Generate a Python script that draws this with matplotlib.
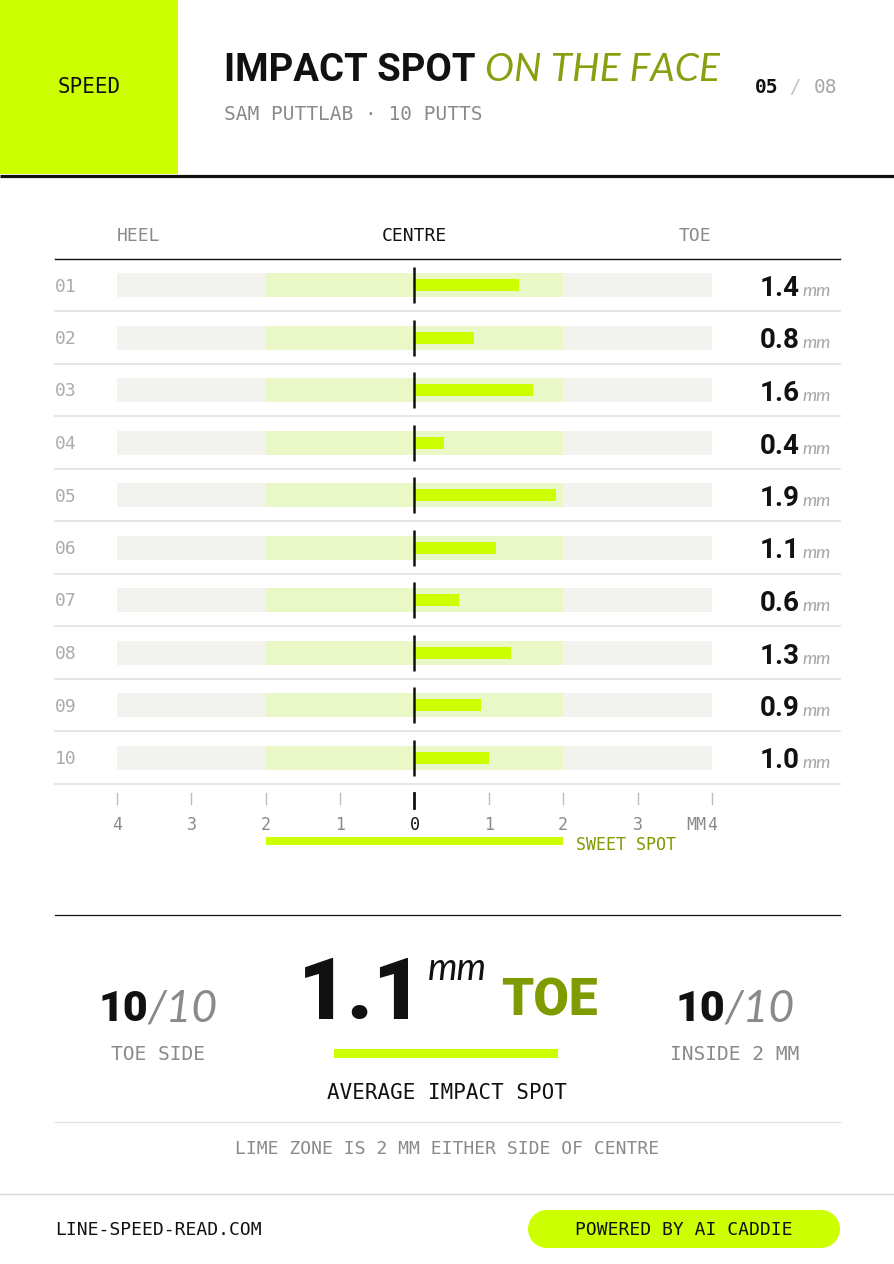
import matplotlib
matplotlib.use('Agg')
import matplotlib.pyplot as plt
from matplotlib.patches import Rectangle, Circle
from matplotlib.transforms import blended_transform_factory
import numpy as np

# ---------------- data ----------------
putt_labels = ['01', '02', '03', '04', '05', '06', '07', '08', '09', '10']
impact_mm = [1.4, 0.8, 1.6, 0.4, 1.9, 1.1, 0.6, 1.3, 0.9, 1.0]
tick_values = [-4, -3, -2, -1, 0, 1, 2, 3, 4]
tick_labels = ['4', '3', '2', '1', '0', '1', '2', '3', '4']
face_range = [-4, 4]
sweet_spot = [-2, 2]

# ---------------- style ----------------
LIME = '#CCFF00'
ZONE = '#EAF7C6'
TRACK = '#F2F2EE'
OLIVE = '#7E9B00'
GREY = '#8A8A8A'
LGREY = '#A6A6A6'
SEP = '#E4E4DF'
BLACK = '#111111'
MONO = ['DejaVu Sans Mono']
SANS = ['Roboto', 'DejaVu Sans']
LIGHT = ['Lato', 'DejaVu Sans']

W, H = 894, 1264
fig = plt.figure(figsize=(W / 100, H / 100), dpi=100, facecolor='white')
bg = fig.add_axes([0, 0, 1, 1], zorder=1)
bg.set_xlim(0, W)
bg.set_ylim(H, 0)
bg.axis('off')
renderer = fig.canvas.get_renderer()


def seq(x, y, parts, ax=bg):
    """place text pieces one after the other on a common baseline"""
    for s, kw in parts:
        t = ax.text(x, y, s, ha='left', va='baseline', **kw)
        bb = t.get_window_extent(renderer)
        x += bb.width
    return x


def width_of(parts):
    tot = 0
    for s, kw in parts:
        t = bg.text(0, 0, s, **kw)
        tot += t.get_window_extent(renderer).width
        t.remove()
    return tot


# ---------------- header ----------------
bg.add_patch(Rectangle((0, 0), 178, 174, color=LIME, lw=0))
bg.text(89, 87, 'SPEED', ha='center', va='center', family=MONO, fontsize=15,
        color=BLACK)
bg.plot([0, W], [175.5, 175.5], color=BLACK, lw=2.3, solid_capstyle='butt')

seq(224, 81, [('IMPACT SPOT ', dict(family=SANS, fontweight='bold', fontsize=27.5, color=BLACK)),
              ('ON THE FACE', dict(family=LIGHT, fontweight='normal', style='italic',
                                   fontsize=28, color='#86A010'))])
bg.text(224, 120, 'SAM PUTTLAB · 10 PUTTS', ha='left', va='baseline', family=MONO,
        fontsize=14, color=GREY)
seq(755, 93, [('05', dict(family=MONO, fontsize=14, color=BLACK, fontweight='bold')),
              (' / ', dict(family=MONO, fontsize=14, color='#C4C4C4')),
              ('08', dict(family=MONO, fontsize=14, color=LGREY))])

# ---------------- chart ----------------
x0, x1 = 117, 712
top, row_h = 258.75, 52.5
n = len(putt_labels)
ax = fig.add_axes([x0 / W, 1 - (top + n * row_h) / H, (x1 - x0) / W, n * row_h / H],
                  zorder=2)
ax.set_xlim(face_range)
ax.set_ylim(n - 0.5, -0.5)
ax.axis('off')
rows = np.arange(n)
trans_px_x = blended_transform_factory(bg.transData, ax.transData)

# column headings
bg.text(117, 241, 'HEEL', ha='left', va='baseline', family=MONO, fontsize=13, color=GREY)
bg.text(414, 241, 'CENTRE', ha='center', va='baseline', family=MONO, fontsize=13, color=BLACK)
bg.text(711, 241, 'TOE', ha='right', va='baseline', family=MONO, fontsize=13, color=GREY)

# separators
ax.plot([55, 840], [-0.5, -0.5], color=BLACK, lw=1.0, transform=trans_px_x, clip_on=False)
for r in rows:
    ax.plot([55, 840], [r + 0.5, r + 0.5], color=SEP, lw=1.3, transform=trans_px_x,
            clip_on=False)

track_h = 24 / row_h
bar_h = 12 / row_h
ax.barh(rows, face_range[1] - face_range[0], left=face_range[0], height=track_h,
        color=TRACK, lw=0, zorder=1)
ax.barh(rows, sweet_spot[1] - sweet_spot[0], left=sweet_spot[0], height=track_h,
        color=ZONE, lw=0, zorder=2)
ax.barh(rows, impact_mm, left=0, height=bar_h, color=LIME, lw=0, zorder=3)
ax.vlines([0] * n, rows - 18 / row_h, rows + 18 / row_h, color=BLACK, lw=1.8, zorder=4)

for r, lab, v in zip(rows, putt_labels, impact_mm):
    ax.text(55, r + 6.5 / row_h, lab, transform=trans_px_x, ha='left', va='baseline',
            family=MONO, fontsize=13, color='#ABABAB', clip_on=False)
    ax.text(800, r + 11 / row_h, f'{v:.1f}', transform=trans_px_x, ha='right',
            va='baseline', family=SANS, fontweight='bold', fontsize=20, color=BLACK,
            clip_on=False)
    ax.text(802, r + 11 / row_h, 'mm', transform=trans_px_x, ha='left', va='baseline',
            family=LIGHT, fontweight='normal', style='italic', fontsize=13, color=LGREY,
            clip_on=False)


# axis ticks under the chart
def ypx(p):
    return (p - top) / row_h - 0.5


for tv, tl in zip(tick_values, tick_labels):
    if tv == 0:
        ax.plot([tv, tv], [ypx(793), ypx(808)], color=BLACK, lw=2.0, clip_on=False)
        ax.text(tv, ypx(830), tl, ha='center', va='baseline', family=MONO, fontsize=12,
                color=BLACK, clip_on=False)
    else:
        ax.plot([tv, tv], [ypx(793), ypx(804)], color='#BDBDBD', lw=1.0, clip_on=False)
        ax.text(tv, ypx(830), tl, ha='center', va='baseline', family=MONO, fontsize=12,
                color=GREY, clip_on=False)
ax.text(face_range[1] - 6 / 74.4, ypx(830), 'MM', ha='right', va='baseline', family=MONO,
        fontsize=12, color=GREY, clip_on=False)

ax.barh([ypx(841)], [sweet_spot[1] - sweet_spot[0]], left=sweet_spot[0],
        height=8 / row_h, color=LIME, lw=0, clip_on=False)
ax.text(sweet_spot[1] + 13 / 74.4, ypx(850), 'SWEET SPOT', ha='left', va='baseline',
        family=MONO, fontsize=12, color=OLIVE, clip_on=False)

# ---------------- summary ----------------
avg = np.mean(impact_mm)
toe_n = int(sum(1 for v in impact_mm if v > 0))
inside_n = int(sum(1 for v in impact_mm if sweet_spot[0] <= v <= sweet_spot[1]))
total = len(impact_mm)

bg.plot([55, 840], [915, 915], color=BLACK, lw=0.9)

big_kw = dict(family=SANS, fontweight='black', fontsize=62, color=BLACK)
mm_kw = dict(family=LIGHT, fontweight='normal', style='italic', fontsize=27, color=BLACK)
toe_kw = dict(family=SANS, fontweight='black', fontsize=37, color=OLIVE)
big_s = f'{avg:.1f}'
w_big = width_of([(big_s, big_kw)])
w_mm = width_of([('mm', mm_kw)])
w_toe = width_of([('TOE', toe_kw)])
gap1, gap2 = 4, 14
total_w = w_big + gap1 + w_mm + gap2 + w_toe
xs = 448 - total_w / 2
bg.text(xs, 1019, big_s, ha='left', va='baseline', **big_kw)
bg.text(xs + w_big + gap1, 980, 'mm', ha='left', va='baseline', **mm_kw)
bg.text(xs + w_big + gap1 + w_mm + gap2, 1015, 'TOE', ha='left', va='baseline', **toe_kw)

for cx, n_ok, label in [(158, toe_n, 'TOE SIDE'), (735, inside_n, 'INSIDE 2 MM')]:
    parts = [(f'{n_ok}', dict(family=SANS, fontweight='black', fontsize=31, color=BLACK)),
             (f'/{total}', dict(family=LIGHT, fontweight='normal', style='italic',
                                fontsize=32, color=GREY))]
    wdt = width_of(parts)
    seq(cx - wdt / 2, 1021, parts)
    bg.text(cx, 1060, label, ha='center', va='baseline', family=MONO, fontsize=14,
            color=GREY)

bg.add_patch(Rectangle((334, 1049), 224, 9, color=LIME, lw=0))
bg.text(447, 1099, 'AVERAGE IMPACT SPOT', ha='center', va='baseline', family=MONO,
        fontsize=15, color=BLACK)
bg.plot([55, 840], [1122, 1122], color=SEP, lw=1.0)
bg.text(447, 1154, 'LIME ZONE IS 2 MM EITHER SIDE OF CENTRE', ha='center', va='baseline',
        family=MONO, fontsize=13, color=GREY)

# ---------------- footer ----------------
bg.plot([0, W], [1194, 1194], color='#DADADA', lw=1.0)
bg.text(55, 1235, 'LINE-SPEED-READ.COM', ha='left', va='baseline', family=MONO,
        fontsize=13, color=BLACK)
bg.add_patch(Rectangle((528 + 19, 1210), 312 - 38, 38, color=LIME, lw=0))
bg.add_patch(Circle((528 + 19, 1229), 19, color=LIME, lw=0))
bg.add_patch(Circle((840 - 19, 1229), 19, color=LIME, lw=0))
bg.text(684, 1235, 'POWERED BY AI CADDIE', ha='center', va='baseline', family=MONO,
        fontsize=13, color=BLACK)

fig.savefig('out.png', dpi=100, facecolor='white')
